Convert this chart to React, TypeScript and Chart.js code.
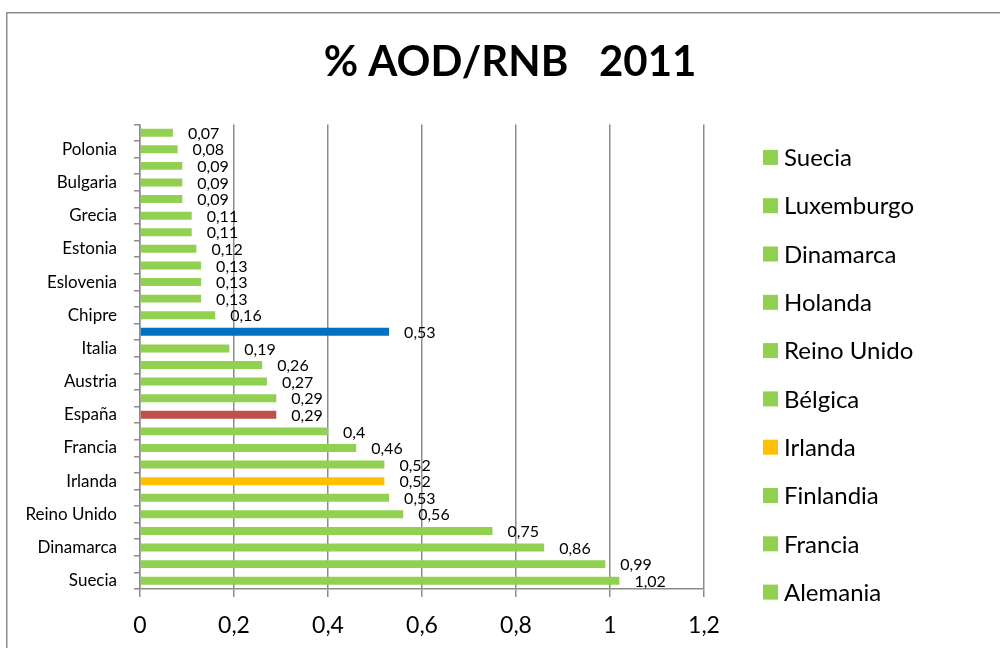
import { useEffect, useRef } from 'react';
import { Chart, registerables } from 'chart.js';

Chart.register(...registerables);

// Categories (bottom to top, as in the reference)
const categories = [
  'Suecia', 'Luxemburgo', 'Dinamarca', 'Holanda', 'Reino Unido', 'Bélgica', 'Irlanda',
  'Finlandia', 'Francia', 'Alemania', 'España', 'Portugal', 'Austria', 'Malta', 'Italia',
  'Media UE', 'Chipre', 'Lituania', 'Eslovenia', 'República Checa', 'Estonia', 'Hungría',
  'Grecia', 'Eslovaquia', 'Bulgaria', 'Rumanía', 'Polonia', 'Letonia',
];

const values = [
  1.02, 0.99, 0.86, 0.75, 0.56, 0.53, 0.52, 0.52, 0.46, 0.4, 0.29, 0.29, 0.27, 0.26,
  0.19, 0.53, 0.16, 0.13, 0.13, 0.13, 0.12, 0.11, 0.11, 0.09, 0.09, 0.09, 0.08, 0.07,
];

const GREEN = '#92D050';
const highlightColors: Record<string, string> = {
  Irlanda: '#FFC000',
  España: '#C0504D',
  'Media UE': '#0070C0',
};
const barColors = categories.map((c) => highlightColors[c] || GREEN);

// Excel-style legend: first ten categories
const legendLabels = categories.slice(0, 10);
const legendColors = barColors.slice(0, 10);

const xMin = 0;
const xMax = 1.2;
const xStep = 0.2;

const titleText = '% AOD/RNB   2011';
const FONT = 'Lato, "Open Sans", sans-serif';

const fmt = (v: number) => String(Math.round(v * 100) / 100).replace('.', ',');

const borderPlugin = {
  id: 'outerBorder',
  beforeDraw(chart: any) {
    const { ctx } = chart;
    ctx.save();
    ctx.fillStyle = '#ffffff';
    ctx.fillRect(0, 0, chart.width, chart.height);
    ctx.strokeStyle = '#8c8c8c';
    ctx.lineWidth = 1.5;
    ctx.strokeRect(6.75, 12.75, chart.width + 50, chart.height + 50);
    ctx.restore();
  },
};

const valueLabelPlugin = {
  id: 'valueLabels',
  afterDatasetsDraw(chart: any) {
    const { ctx } = chart;
    const meta = chart.getDatasetMeta(0);
    ctx.save();
    ctx.font = `16px ${FONT}`;
    ctx.fillStyle = '#000000';
    ctx.textAlign = 'left';
    ctx.textBaseline = 'middle';
    meta.data.forEach((bar: any, i: number) => {
      ctx.fillText(fmt(values[i]), bar.x + 15, bar.y + 1);
    });
    ctx.restore();
  },
};

const sideLegendPlugin = {
  id: 'sideLegend',
  afterDraw(chart: any) {
    const { ctx, chartArea } = chart;
    const x0 = chartArea.right + 59;
    const y0 = chartArea.top + 33;
    const step = 48.3;
    ctx.save();
    ctx.font = `24px ${FONT}`;
    ctx.textAlign = 'left';
    ctx.textBaseline = 'middle';
    legendLabels.forEach((label, i) => {
      const y = y0 + i * step;
      ctx.fillStyle = legendColors[i];
      ctx.fillRect(x0, y - 7.5, 15, 15);
      ctx.fillStyle = '#000000';
      ctx.fillText(label, x0 + 21, y + 1);
    });
    ctx.restore();
  },
};

export default function App() {
  const canvasRef = useRef<HTMLCanvasElement | null>(null);

  useEffect(() => {
    document.body.style.margin = '0';
    const canvas = canvasRef.current;
    if (!canvas) return;
    const chart = new Chart(canvas, {
      type: 'bar',
      data: {
        labels: categories,
        datasets: [
          {
            data: values,
            backgroundColor: barColors,
            borderWidth: 0,
            barPercentage: 0.48,
            categoryPercentage: 1,
            yAxisID: 'y',
            xAxisID: 'x',
          },
        ],
      },
      options: {
        indexAxis: 'y',
        responsive: false,
        animation: false,
        layout: { padding: { left: 20, right: 0, top: 0, bottom: 0 } },
        plugins: {
          legend: { display: false },
          tooltip: { enabled: false },
          title: {
            display: true,
            text: titleText,
            color: '#000000',
            font: { family: FONT, size: 42, weight: 'bold', lineHeight: 1.2 },
            padding: { top: 37, bottom: 37 },
          },
        },
        scales: {
          x: {
            type: 'linear',
            position: 'bottom',
            min: xMin,
            max: xMax,
            ticks: {
              stepSize: xStep,
              color: '#000000',
              font: { family: FONT, size: 23 },
              padding: 15,
              callback: (v: any) => fmt(Number(v)),
            },
            grid: {
              color: '#8c8c8c',
              lineWidth: 1.5,
              drawTicks: true,
              tickLength: 8,
            },
            border: { display: true, color: '#8c8c8c', width: 1.5 },
            afterFit: (s: any) => {
              s.height = 59;
            },
          },
          y: {
            type: 'category',
            position: 'left',
            reverse: true,
            ticks: {
              autoSkip: false,
              color: '#000000',
              font: { family: FONT, size: 17 },
              padding: 17,
              callback: (_v: any, i: number) => (i % 2 === 0 ? categories[i] : ''),
            },
            grid: {
              offset: true,
              drawOnChartArea: false,
              drawTicks: true,
              tickLength: 6,
              color: '#8c8c8c',
              lineWidth: 1.5,
            },
            border: { display: true, color: '#8c8c8c', width: 1.5 },
            afterFit: (s: any) => {
              s.width = 120;
            },
          },
          legendSpace: {
            type: 'linear',
            axis: 'y',
            position: 'right',
            display: true,
            ticks: { display: false },
            grid: { display: false, drawTicks: false },
            border: { display: false },
            afterFit: (s: any) => {
              s.width = 296;
            },
          },
        },
      } as any,
      plugins: [borderPlugin, valueLabelPlugin, sideLegendPlugin],
    });
    return () => chart.destroy();
  }, []);

  return (
    <div style={{ width: 1000, height: 648 }}>
      <canvas ref={canvasRef} width={1000} height={648} />
    </div>
  );
}
